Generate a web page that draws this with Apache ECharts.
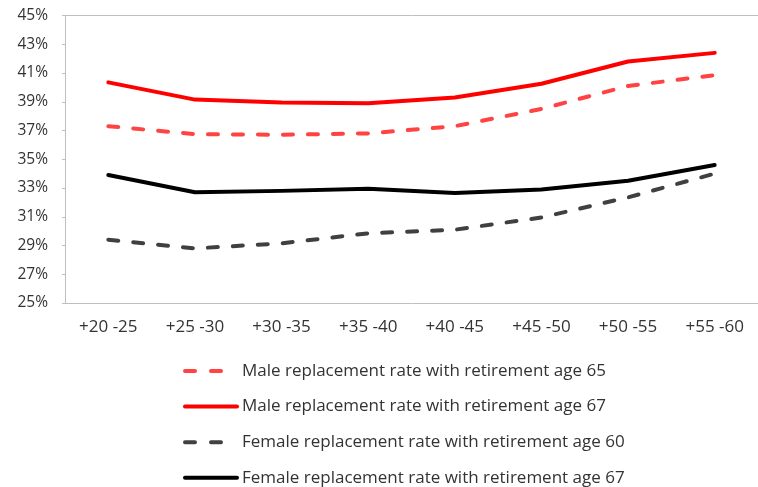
<!DOCTYPE html>
<html>
<head>
<meta charset="utf-8">
<script src="https://cdn.jsdelivr.net/npm/echarts@6/dist/echarts.min.js"></script>
<style>
html,body{margin:0;padding:0;background:#fff;}
#chart{width:758px;height:487px;}
</style>
</head>
<body>
<div id="chart"></div>
<script>
var categories = ['+20 -25', '+25 -30', '+30 -35', '+35 -40', '+40 -45', '+45 -50', '+50 -55', '+55 -60'];
var male65 = [37.3, 36.75, 36.7, 36.8, 37.3, 38.5, 40.1, 40.85];
var male67 = [40.35, 39.15, 38.95, 38.9, 39.3, 40.25, 41.8, 42.4];
var female60 = [29.4, 28.8, 29.15, 29.85, 30.1, 30.95, 32.35, 34.0];
var female67 = [33.9, 32.7, 32.8, 32.95, 32.65, 32.9, 33.5, 34.6];
var seriesNames = [
  'Male replacement rate with retirement age 65',
  'Male replacement rate with retirement age 67',
  'Female replacement rate with retirement age 60',
  'Female replacement rate with retirement age 67'
];
var yMin = 25, yMax = 45, yStep = 2;

var FONT = 'Open Sans';
var chart = echarts.init(document.getElementById('chart'), null, {renderer: 'canvas'});
function mk(name, data, color, dashed) {
  return {
    name: name, type: 'line', data: data, symbol: 'none', smooth: false,
    xAxisIndex: 0,
    lineStyle: {color: color, width: 4, type: dashed ? [10, 15] : 'solid', cap: 'round', join: 'round'},
    itemStyle: {color: color},
    emphasis: {disabled: true},
    animation: false
  };
}
chart.setOption({
  animation: false,
  grid: {left: 65, top: 15.5, right: -13, bottom: 184},
  legend: {
    orient: 'vertical', left: 183, top: 362, padding: 0, height: 200,
    itemWidth: 52, itemHeight: 14, itemGap: 17.6,
    itemStyle: {opacity: 0},
    lineStyle: {width: 4},
    textStyle: {fontFamily: FONT, fontSize: 17, color: '#333', lineHeight: 18},
    data: [
      {name: seriesNames[0], lineStyle: {type: [10, 16], width: 4}},
      {name: seriesNames[1]},
      {name: seriesNames[2], lineStyle: {type: [10, 16], width: 4}},
      {name: seriesNames[3]}
    ]
  },
  xAxis: [{
    type: 'category', data: categories, boundaryGap: true,
    axisLine: {lineStyle: {color: '#BFBFBF', width: 1}},
    axisTick: {inside: true, length: 6, lineStyle: {color: '#BFBFBF'}},
    axisLabel: {fontFamily: FONT, fontSize: 17, color: '#333', margin: 16},
    splitLine: {show: false}
  }, {
    type: 'category', data: categories, position: 'top', boundaryGap: true,
    axisLine: {lineStyle: {color: '#BFBFBF', width: 1}},
    axisTick: {show: false}, axisLabel: {show: false}, splitLine: {show: false}
  }],
  yAxis: {
    type: 'value', min: yMin, max: yMax, interval: yStep,
    axisLine: {show: true, lineStyle: {color: '#BFBFBF'}},
    axisTick: {show: true, length: 3, lineStyle: {color: '#BFBFBF'}},
    axisLabel: {fontFamily: FONT, fontSize: 15.5, color: '#333', margin: 17, formatter: '{value}%'},
    splitLine: {show: false}
  },
  series: [
    mk(seriesNames[0], male65, '#FF4343', true),
    mk(seriesNames[1], male67, '#FF0000', false),
    mk(seriesNames[2], female60, '#404040', true),
    mk(seriesNames[3], female67, '#000000', false)
  ]
});
</script>
</body>
</html>
